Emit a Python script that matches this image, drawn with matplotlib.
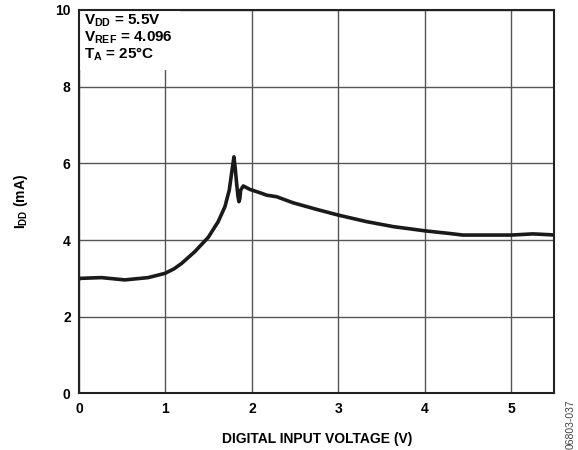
import matplotlib
matplotlib.use("Agg")
import matplotlib.pyplot as plt

# Supply current vs. digital input voltage
vin = [0.0, 0.01, 0.26, 0.53, 0.80, 0.994, 1.10, 1.187, 1.341, 1.495, 1.61,
       1.688, 1.738, 1.765, 1.792, 1.808, 1.823, 1.838, 1.85, 1.86, 1.87,
       1.90, 1.977, 2.11, 2.17, 2.285, 2.478, 2.748, 3.0, 3.326, 3.634,
       4.0, 4.29, 4.44, 5.0, 5.25, 5.43, 5.5]
idd = [2.98, 3.0, 3.02, 2.96, 3.02, 3.13, 3.25, 3.39, 3.70, 4.07, 4.48,
       4.87, 5.30, 5.74, 6.17, 5.85, 5.48, 5.15, 5.0, 5.08, 5.30,
       5.41, 5.32, 5.22, 5.17, 5.13, 4.97, 4.80, 4.65, 4.48, 4.35,
       4.24, 4.17, 4.13, 4.13, 4.16, 4.14, 4.13]

x_ticks = [0, 1, 2, 3, 4, 5]
y_ticks = [0, 2, 4, 6, 8, 10]

plt.rcParams["font.family"] = ["Liberation Sans", "DejaVu Sans"]
plt.rcParams["font.weight"] = "bold"
plt.rcParams["mathtext.fontset"] = "custom"
plt.rcParams["mathtext.rm"] = "Liberation Sans:bold"
plt.rcParams["mathtext.it"] = "Liberation Sans:bold"
plt.rcParams["mathtext.bf"] = "Liberation Sans:bold"

fig = plt.figure(figsize=(5.78, 4.5), dpi=100)
ax = fig.add_axes([0.1367, 0.1258, 0.8226, 0.852])

ax.plot(vin, idd, color="#1a1a1a", lw=2.6, solid_joinstyle="round",
        solid_capstyle="round", zorder=3)

ax.set_xlim(0, 5.5)
ax.set_ylim(0, 10)
ax.set_xticks(x_ticks)
ax.set_yticks(y_ticks)
ax.tick_params(length=0, pad=6, labelsize=10)
for lbl in ax.get_xticklabels() + ax.get_yticklabels():
    lbl.set_fontweight("bold")
ax.grid(True, color="#555555", lw=1.0, zorder=1)
for s in ax.spines.values():
    s.set_linewidth(1.5)
    s.set_color("#222222")
    s.set_zorder(5)

ax.set_xlabel("DIGITAL INPUT VOLTAGE (V)", fontsize=10, fontweight="bold", labelpad=12)
ax.set_ylabel(r"$I_{DD}$ (mA)", fontsize=10, fontweight="bold", labelpad=18)

ax.text(0.011, 0.992,
        "$V_{DD}$ = 5.5V\n$V_{REF}$ = 4.096\n$T_A$ = 25°C",
        transform=ax.transAxes, ha="left", va="top", fontsize=11,
        fontweight="bold", linespacing=1.0, zorder=2,
        bbox=dict(boxstyle="square,pad=0.45", fc="white", ec="none"))

fig.text(0.988, 0.002, "06803-037", rotation=90, ha="center", va="bottom",
         fontsize=7.5, fontweight="normal", color="#444444")

fig.savefig("out.png", dpi=100)
